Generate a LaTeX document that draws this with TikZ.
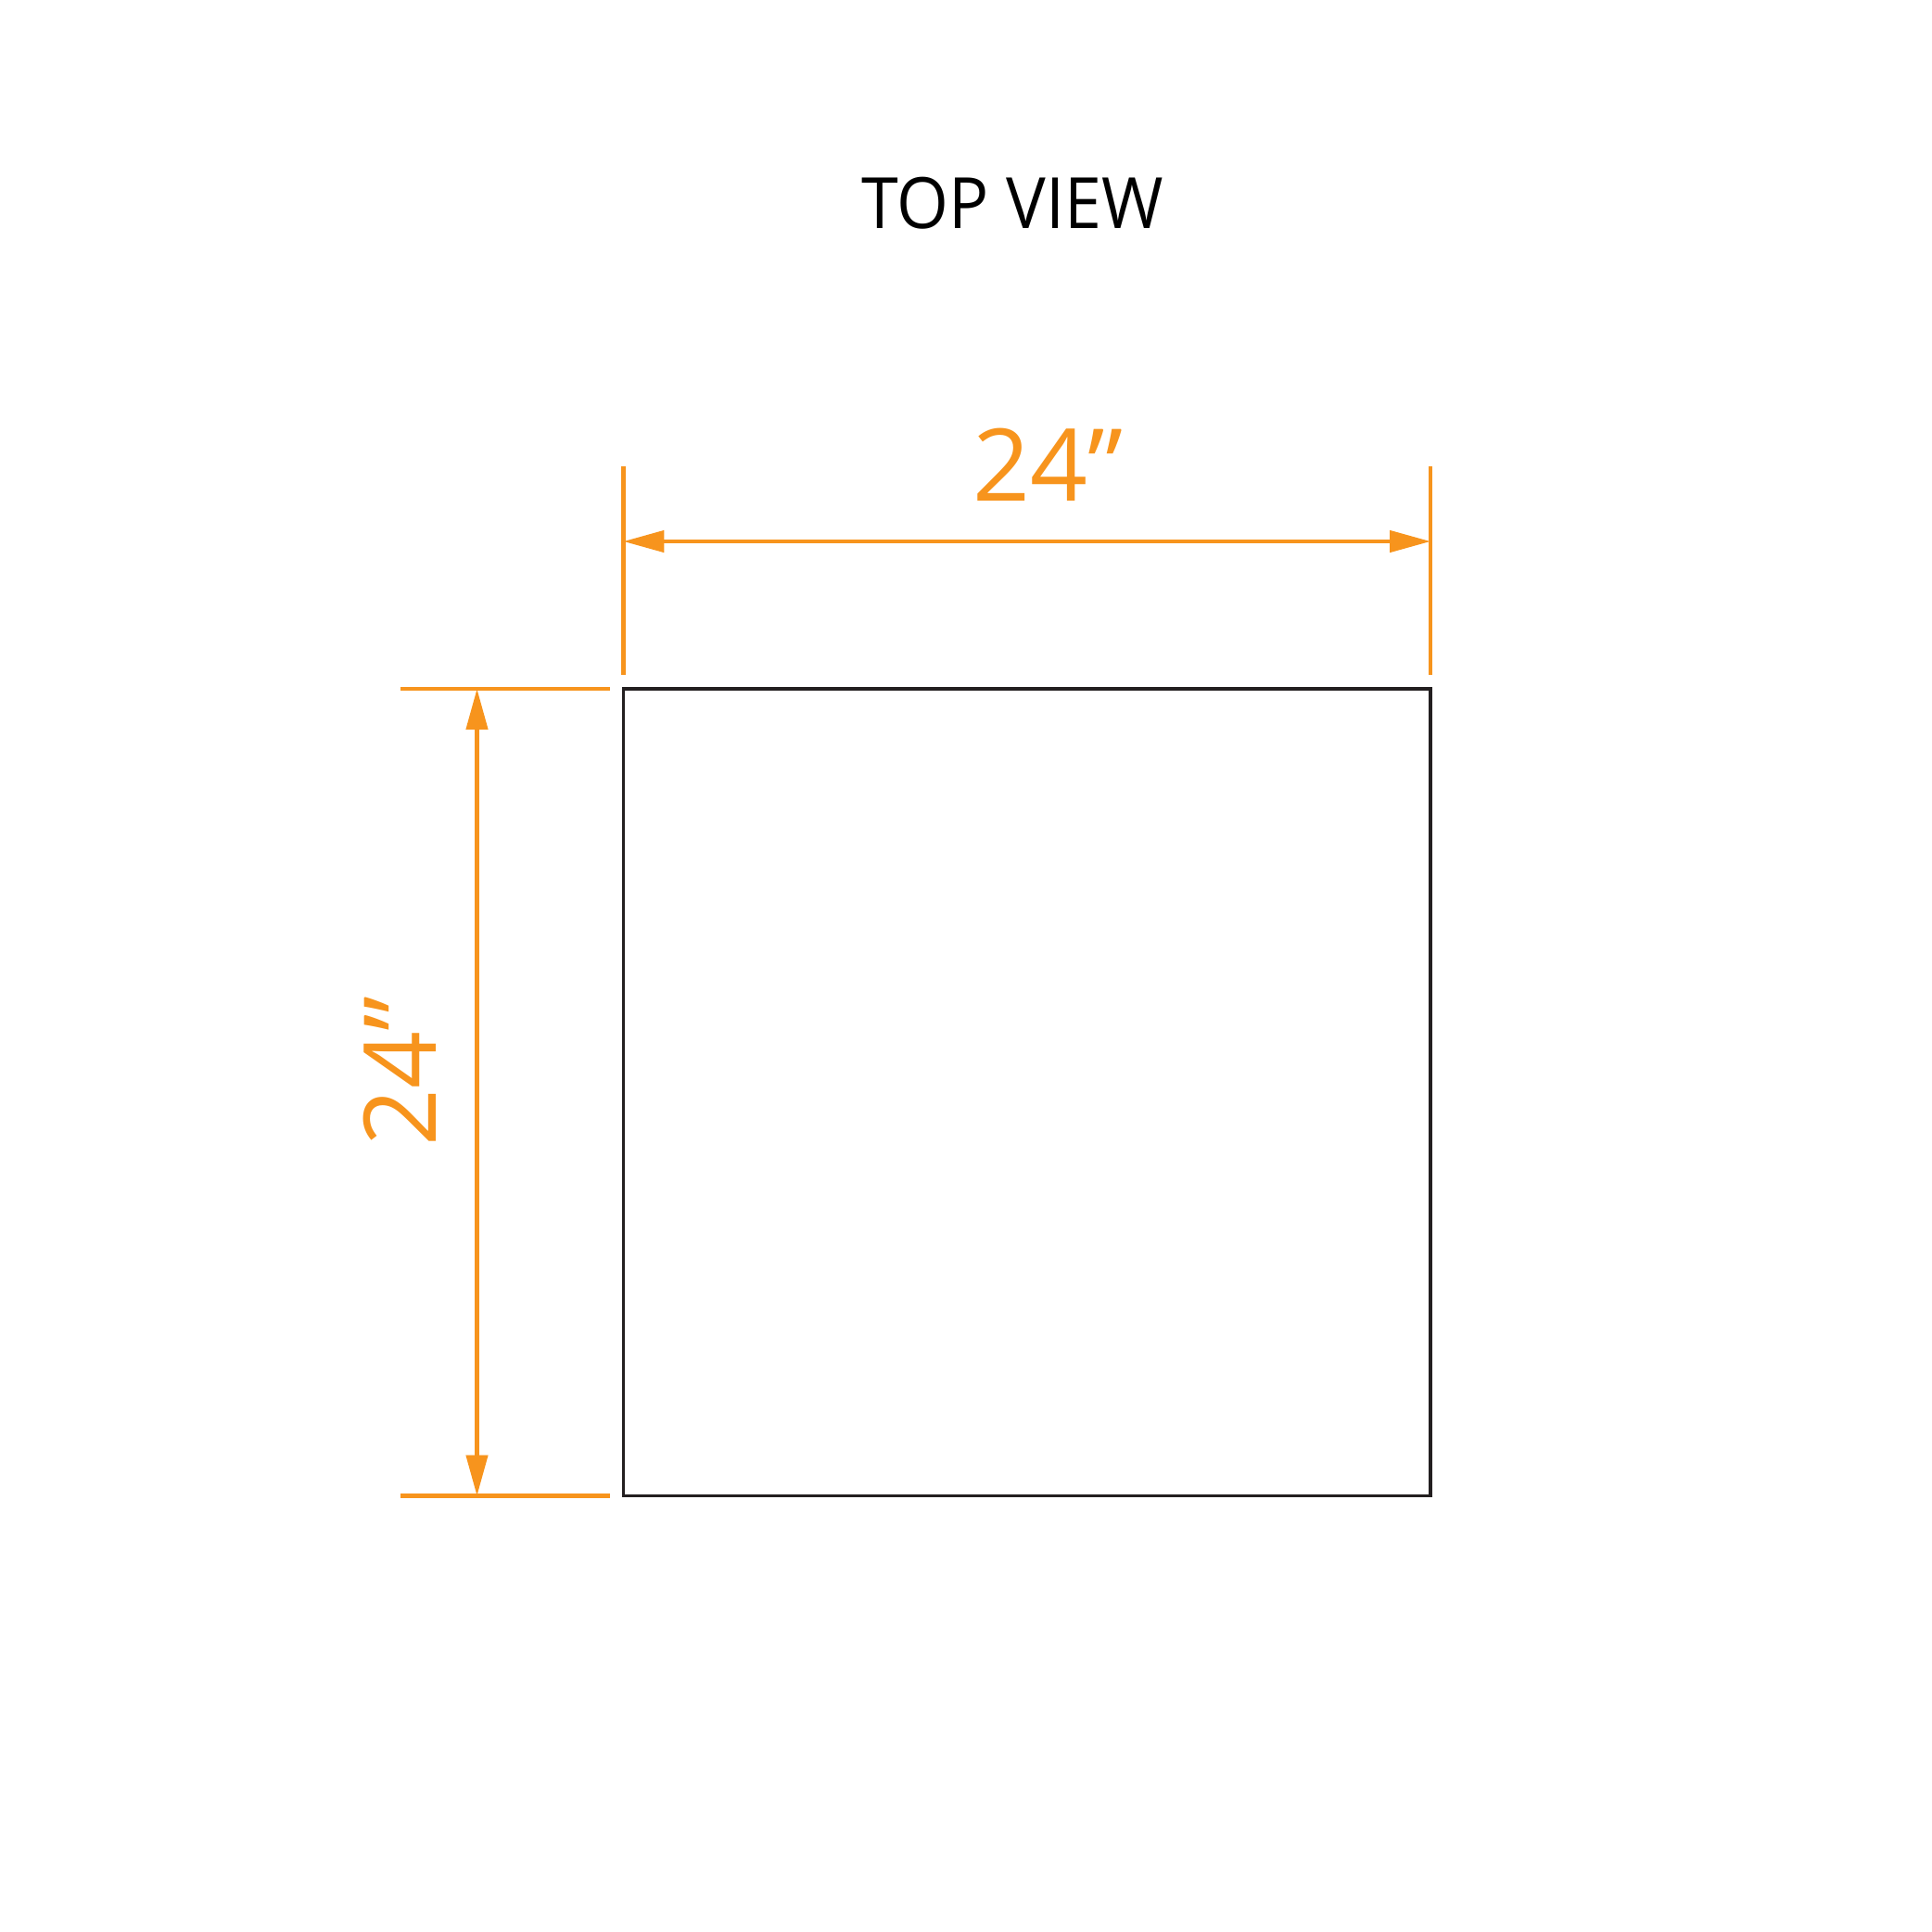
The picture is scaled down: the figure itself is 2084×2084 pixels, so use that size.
\documentclass[tikz,border=0pt]{standalone}
\usepackage{fontspec}
\setmainfont{Open Sans}
\newfontfamily\titlefont[FakeStretch=0.94]{Open Sans}
\usetikzlibrary{arrows.meta}
\definecolor{dimorange}{HTML}{F7941D}
\definecolor{outline}{HTML}{231F20}
\begin{document}
\begin{tikzpicture}[x=0.36pt,y=-0.36pt,
  dimline/.style={draw=dimorange,line width=1.5pt},
  dimarrow/.style={dimorange,line width=1.5pt,{Triangle[length=15.8pt,width=8.3pt]}-{Triangle[length=15.8pt,width=8.3pt]}},
  dimlabel/.style={text=dimorange,font=\fontsize{39}{39}\selectfont,inner sep=0pt,anchor=base},
  titlelabel/.style={text=black,font=\titlefont\fontsize{27.5}{27.5}\selectfont,inner sep=0pt,anchor=base}]
\useasboundingbox (0,0) rectangle (2084,2084);
% square
\node[draw=outline,line width=1.3pt,inner sep=0pt,outer sep=0pt,minimum width=313.4pt,minimum height=313.4pt] (sq) at (1107.75,1178.25) {};
% title
\node[titlelabel] (title) at (1092,246) {TOP VIEW};
% horizontal extension lines
\coordinate (hl1) at (672.5,503);
\coordinate (hl2) at (672.5,728);
\coordinate (hr1) at (1543,503);
\coordinate (hr2) at (1543,728);
\draw[dimline] (hl1) -- (hl2);
\draw[dimline] (hr1) -- (hr2);
\coordinate (ha) at (672.5,584);
\coordinate (hb) at (1543,584);
\draw[dimarrow] (ha) -- (hb);
\node[dimlabel] (hlab) at (1130,540) {24”};
% vertical extension lines
\coordinate (vt1) at (432,743);
\coordinate (vt2) at (658,743);
\coordinate (vb1) at (432,1613.5);
\coordinate (vb2) at (658,1613.5);
\draw[dimline] (vt1) -- (vt2);
\draw[dimline] (vb1) -- (vb2);
\coordinate (va) at (514.5,743);
\coordinate (vb) at (514.5,1613.5);
\draw[dimarrow] (va) -- (vb);
\node[dimlabel,rotate=90] (vlab) at (470,1155.5) {24”};
\end{tikzpicture}
\end{document}
